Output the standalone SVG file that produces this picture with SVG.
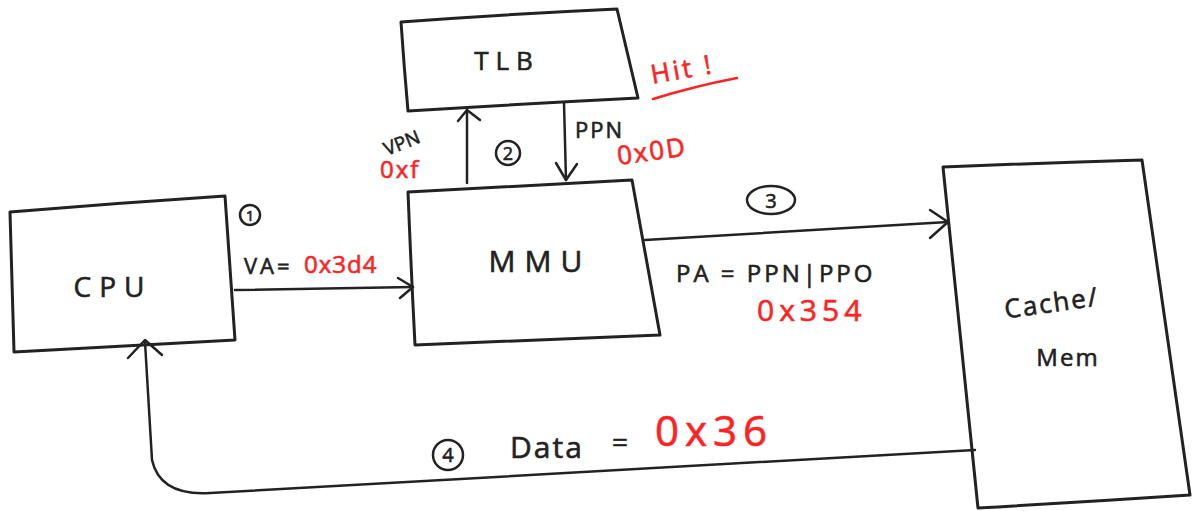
<svg xmlns="http://www.w3.org/2000/svg" width="1196" height="511" viewBox="0 0 1196 511">
<style>
.box{fill:none;stroke:#222;stroke-width:3;stroke-linejoin:round;stroke-linecap:round}
.ln{fill:none;stroke:#222;stroke-width:2.5;stroke-linecap:round;stroke-linejoin:round}
.red{fill:none;stroke:#f22;stroke-width:2.5;stroke-linecap:round}
.t{font-family:"Open Sans","Liberation Sans",sans-serif;fill:#222;stroke:#222;stroke-width:0.6}
.r{font-family:"Open Sans","Liberation Sans",sans-serif;fill:#f22;stroke:#f22;stroke-width:0.6}
</style>
<rect width="1196" height="511" fill="#fff"/>
<g id="tlb">
<path class="box" d="M401,22 Q510,14 617,9 Q628,55 638,98 Q520,104 408,111 Q404,66 401,22 Z"/>
<text class="t" x="507" y="70" font-size="26" text-anchor="middle" letter-spacing="7">TLB</text>
</g>
<g id="mmu">
<path class="box" d="M408,192 Q520,186 632,180 Q646,258 660,335 Q538,340 415,345 Q411,268 408,192 Z"/>
<text class="t" x="540" y="272" font-size="30" text-anchor="middle" letter-spacing="9">MMU</text>
</g>
<g id="cpu">
<path class="box" d="M10,212 Q118,203 225,196 Q230,268 235,340 Q124,346 14,352 Q12,282 10,212 Z"/>
<text class="t" x="113" y="297" font-size="28" text-anchor="middle" letter-spacing="8">CPU</text>
</g>
<g id="mem">
<path class="box" d="M943,167 Q1042,163 1142,160 Q1166,328 1190,495 Q1084,502 978,508 Q960,338 943,167 Z"/>
<text class="t" x="1052" y="312" font-size="26" text-anchor="middle" letter-spacing="2" transform="rotate(-8 1052 305)">Cache/</text>
<text class="t" x="1068" y="366" font-size="24" text-anchor="middle" letter-spacing="2">Mem</text>
</g>
<g id="connectors">
<path class="ln" d="M235,290 L413,287"/>
<path class="ln" d="M398,278 L413,287 L400,298"/>
<path class="ln" d="M467,183 L467,110"/>
<path class="ln" d="M458,121 L467,110 L480,120"/>
<path class="ln" d="M564,103 L566,180"/>
<path class="ln" d="M556,163 L566,180 L577,164"/>
<path class="ln" d="M645,240 L948,222"/>
<path class="ln" d="M930,210 L948,222 L930,238"/>
<path class="ln" d="M975,450 L210,493 Q160,496 152,460 L145,342"/>
<path class="ln" d="M128,358 L145,340 L162,355"/>
</g>
<g id="labels">
<circle class="ln" cx="250" cy="215" r="10"/>
<text class="t" x="250" y="221" font-size="15" text-anchor="middle">1</text>
<text class="t" x="244" y="274" font-size="22" letter-spacing="3">VA=</text>
<text class="r" x="304" y="273" font-size="24" letter-spacing="1">0x3d4</text>
<text class="t" x="382" y="150" font-size="19" transform="rotate(-22 400 140)">VPN</text>
<text class="r" x="380" y="178" font-size="24" letter-spacing="2">0xf</text>
<circle class="ln" cx="508" cy="153" r="12"/>
<text class="t" x="508" y="160" font-size="18" text-anchor="middle">2</text>
<text class="t" x="575" y="138" font-size="22" letter-spacing="2">PPN</text>
<text class="r" x="617" y="165" font-size="26" letter-spacing="2" transform="rotate(-8 618 155)">0x0D</text>
<text class="r" x="651" y="84" font-size="26" letter-spacing="3" transform="rotate(-10 651 75)">Hit !</text>
<path class="red" d="M653,99 Q695,86 737,78"/>
<ellipse class="ln" cx="771" cy="200" rx="24" ry="14"/>
<text class="t" x="771" y="208" font-size="20" text-anchor="middle">3</text>
<text class="t" x="676" y="282" font-size="24" letter-spacing="3">PA = PPN|PPO</text>
<text class="r" x="757" y="321" font-size="30" letter-spacing="5">0x354</text>
<circle class="ln" cx="448" cy="455" r="15"/>
<text class="t" x="448" y="462" font-size="20" text-anchor="middle">4</text>
<text class="t" x="510" y="458" font-size="30" letter-spacing="2">Data</text>
<text class="t" x="612" y="452" font-size="28">=</text>
<text class="r" x="655" y="446" font-size="42" letter-spacing="6">0x36</text>
</g>
</svg>
